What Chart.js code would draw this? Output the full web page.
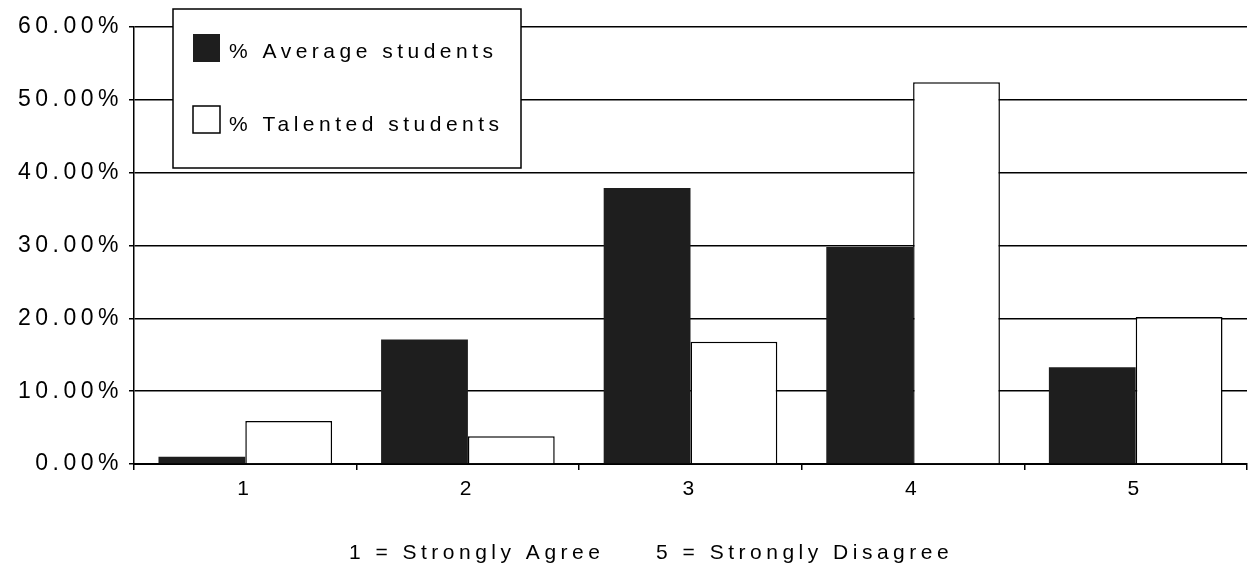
<!DOCTYPE html>
<html lang="en">
<head>
  <meta charset="UTF-8">
  <title>Average vs talented students</title>
  <script src="https://cdn.jsdelivr.net/npm/chart.js"></script>
  <style>
    body { margin: 0; background: #fff; }
    #wrap { width: 1250px; height: 587px; position: relative; }
  </style>
</head>
<body>
<div id="wrap"><canvas id="chart"></canvas></div>
<script>
// data
const categories = ['1', '2', '3', '4', '5'];
const averageStudents = [1.0, 17.1, 37.9, 29.8, 13.3];
const talentedStudents = [5.9, 3.8, 16.8, 52.4, 20.2];
const seriesLabels = ['% Average students', '% Talented students'];
const axisNote = '1 = Strongly Agree     5 = Strongly Disagree';

Chart.defaults.font.family = "'Liberation Sans', Arial, sans-serif";
Chart.defaults.color = '#000';
const FONT = "21px 'Liberation Sans', Arial, sans-serif";

// wide letter spacing like the scanned original
const spacing = {
  id: 'spacing',
  beforeLayout(chart) { chart.ctx.letterSpacing = '4.5px'; },
  beforeDraw(chart) { chart.ctx.letterSpacing = '4.5px'; }
};

// boxed legend in the top-left of the plot + the scale note under the axis
const boxLegend = {
  id: 'boxLegend',
  afterDatasetsDraw(chart) {
    const ctx = chart.ctx;
    const x = chart.chartArea.left + 39, y = 9;
    ctx.save();
    ctx.fillStyle = '#fff';
    ctx.fillRect(x, y, 348, 159);
    ctx.strokeStyle = '#000';
    ctx.lineWidth = 1.5;
    ctx.strokeRect(x, y, 348, 159);
    const rows = [{ box: 34, text: 52 }, { box: 106, text: 125 }];
    chart.data.datasets.forEach((ds, i) => {
      const r = rows[i];
      ctx.fillStyle = ds.backgroundColor;
      ctx.fillRect(x + 20, r.box, 27, 28);
      if (ds.borderWidth) {
        ctx.lineWidth = 1.5;
        ctx.strokeRect(x + 20, r.box, 27, 27);
      }
      ctx.fillStyle = '#000';
      ctx.font = FONT;
      ctx.textBaseline = 'middle';
      ctx.textAlign = 'left';
      ctx.fillText(ds.label, x + 56, r.text);
    });
    ctx.restore();
  },
  afterDraw(chart) {
    const ctx = chart.ctx;
    ctx.save();
    ctx.fillStyle = '#000';
    ctx.font = FONT;
    ctx.textBaseline = 'middle';
    ctx.textAlign = 'center';
    ctx.fillText(axisNote, 651, 553);
    ctx.restore();
  }
};

new Chart(document.getElementById('chart'), {
  type: 'bar',
  data: {
    labels: categories,
    datasets: [
      { label: seriesLabels[0], data: averageStudents, backgroundColor: '#1e1e1e', borderWidth: 0 },
      { label: seriesLabels[1], data: talentedStudents, backgroundColor: '#ffffff', borderColor: '#000', borderWidth: 1.5 }
    ]
  },
  options: {
    responsive: true,
    maintainAspectRatio: false,
    animation: false,
    categoryPercentage: 0.78,
    barPercentage: 1,
    layout: { padding: { top: 27, right: 3, left: 0, bottom: 0 } },
    plugins: { legend: { display: false }, tooltip: { enabled: false } },
    scales: {
      x: {
        grid: { drawOnChartArea: false, drawTicks: true, tickLength: 6, color: '#000', lineWidth: 1.5 },
        border: { color: '#000', width: 2 },
        ticks: { font: { size: 21 }, padding: 7 },
        afterFit(scale) { scale.height = 123; }
      },
      y: {
        min: 0,
        max: 60,
        ticks: { stepSize: 10, font: { size: 23 }, padding: 6, callback: v => v.toFixed(2) + '%' },
        grid: { color: '#000', lineWidth: 1.5, tickLength: 5 },
        border: { color: '#000', width: 1.5 },
        afterFit(scale) { scale.width = 134; }
      }
    }
  },
  plugins: [spacing, boxLegend]
});
</script>
</body>
</html>
